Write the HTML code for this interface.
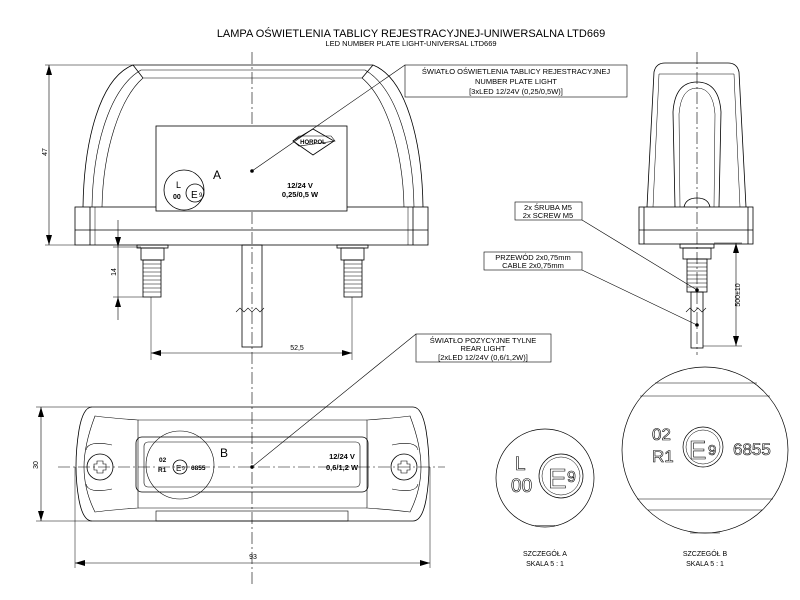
<!DOCTYPE html>
<html><head><meta charset="utf-8"><style>
html,body{margin:0;padding:0;background:#fff;}
svg{display:block;font-family:"Liberation Sans",sans-serif;}
</style></head><body>
<svg width="800" height="600" viewBox="0 0 800 600" xmlns="http://www.w3.org/2000/svg">
<text x="411" y="37" font-size="11" text-anchor="middle">LAMPA OŚWIETLENIA TABLICY REJESTRACYJNEJ-UNIWERSALNA LTD669</text>
<text x="411" y="46" font-size="7.5" text-anchor="middle">LED NUMBER PLATE LIGHT-UNIVERSAL LTD669</text>

<g stroke="#000" stroke-width="0.6" stroke-dasharray="12,3,2,3" fill="none">
<line x1="252" y1="52" x2="252" y2="585"/>
<line x1="697" y1="52" x2="697" y2="355"/>
<line x1="58" y1="467" x2="445" y2="467"/>
</g>

<!-- arrowheads -->
<g fill="#000">
<polygon points="49,65 46,75 52,75"/><polygon points="49,245 46,235 52,235"/>
<polygon points="118,247 115,237 121,237"/><polygon points="118,297 115,307 121,307"/>
<polygon points="151,353 161,350 161,356"/><polygon points="352,353 342,350 342,356"/>
<polygon points="736,243 733,253 739,253"/><polygon points="736,346 733,336 739,336"/>
<polygon points="41,407 38,417 44,417"/><polygon points="41,521 38,511 44,511"/>
<polygon points="75,563 85,560 85,566"/><polygon points="430,563 420,560 420,566"/>
</g>

<!-- FRONT VIEW -->
<g fill="none" stroke="#000" stroke-width="0.8">
<path d="M83,207 C84,140 100,78 133,65 L373,65 C406,78 422,140 423,207"/>
<path d="M92,207 C93,145 110,88 141,70 L365,70 C396,88 413,145 414,207" stroke-width="0.6"/>
<path d="M102,207 C103,150 120,98 143,78 L362,78 C386,98 403,150 404,207" stroke-width="0.6"/>
<line x1="143" y1="78" x2="133" y2="65"/><line x1="362" y1="78" x2="373" y2="65"/>
<rect x="75" y="207" width="353" height="38"/>
<line x1="75" y1="230" x2="428" y2="230"/>
<line x1="90" y1="207" x2="90" y2="245"/><line x1="95" y1="207" x2="95" y2="245" stroke-width="0.5"/>
<line x1="413" y1="207" x2="413" y2="245"/><line x1="408" y1="207" x2="408" y2="245" stroke-width="0.5"/>
<rect x="156" y="126" width="191" height="85" fill="#fff"/>
<path d="M293,141 L313,129 L334,141 L313,155 Z"/>
<path d="M293,141 L299,136 L331,136 L335,141 L299,146 Z" stroke-width="0.6"/>
<circle cx="184" cy="190" r="20"/>
<circle cx="195" cy="193" r="9"/>
<rect x="137" y="245" width="31" height="3"/>
<rect x="141" y="248" width="23" height="12"/>
<rect x="143" y="260" width="18" height="37"/>
<rect x="337" y="245" width="31" height="3"/>
<rect x="341" y="248" width="23" height="12"/>
<rect x="344" y="260" width="18" height="37"/>
<rect x="242" y="245" width="20" height="102"/>
<path d="M236,312 l4,-4 l4,4 l4,-4 l4,4 l4,-4 l4,4 l4,-4" stroke-width="0.6"/>
<line x1="352" y1="297" x2="352" y2="360" stroke-width="0.5"/>
<line x1="151" y1="297" x2="151" y2="360" stroke-width="0.5"/>
<line x1="151" y1="353" x2="352" y2="353" stroke-width="0.6"/>
<line x1="45" y1="65" x2="133" y2="65" stroke-width="0.5"/>
<line x1="45" y1="245" x2="75" y2="245" stroke-width="0.5"/>
<line x1="49" y1="65" x2="49" y2="245" stroke-width="0.6"/>
<line x1="113" y1="247" x2="141" y2="247" stroke-width="0.5"/>
<line x1="113" y1="297" x2="143" y2="297" stroke-width="0.5"/>
<line x1="118" y1="220" x2="118" y2="320" stroke-width="0.6"/>
</g>
<g stroke="#000" stroke-width="0.5">
<line x1="143" y1="264" x2="161" y2="264"/><line x1="143" y1="268" x2="161" y2="268"/><line x1="143" y1="272" x2="161" y2="272"/><line x1="143" y1="276" x2="161" y2="276"/><line x1="143" y1="280" x2="161" y2="280"/><line x1="143" y1="284" x2="161" y2="284"/><line x1="143" y1="288" x2="161" y2="288"/><line x1="143" y1="292" x2="161" y2="292"/>
<line x1="344" y1="264" x2="362" y2="264"/><line x1="344" y1="268" x2="362" y2="268"/><line x1="344" y1="272" x2="362" y2="272"/><line x1="344" y1="276" x2="362" y2="276"/><line x1="344" y1="280" x2="362" y2="280"/><line x1="344" y1="284" x2="362" y2="284"/><line x1="344" y1="288" x2="362" y2="288"/><line x1="344" y1="292" x2="362" y2="292"/>
</g>
<text x="313" y="144" font-size="6" text-anchor="middle" font-weight="bold">HORPOL</text>
<text x="176" y="188" font-size="9">L</text>
<text x="173" y="199" font-size="7" font-weight="bold">00</text>
<text x="191" y="198" font-size="10">E</text><text x="199" y="197" font-size="6">9</text>
<text x="213" y="179" font-size="12">A</text>
<text x="300" y="188" font-size="7.5" font-weight="bold" text-anchor="middle">12/24 V</text>
<text x="300" y="197" font-size="7.5" font-weight="bold" text-anchor="middle">0,25/0,5 W</text>
<circle cx="252" cy="171" r="1.8"/>
<text transform="translate(47,152) rotate(-90)" font-size="7" text-anchor="middle">47</text>
<text transform="translate(116,272) rotate(-90)" font-size="7" text-anchor="middle">14</text>
<text x="297" y="350" font-size="7" text-anchor="middle">52,5</text>

<g fill="none" stroke="#000" stroke-width="0.6">
<rect x="405" y="65" width="222" height="32"/>
<line x1="405" y1="65" x2="252" y2="171"/>
<rect x="515" y="202" width="67" height="18"/>
<line x1="582" y1="220" x2="697" y2="290"/>
<rect x="484" y="252" width="98" height="18"/>
<line x1="582" y1="270" x2="697" y2="325"/>
<rect x="416" y="334" width="135" height="28"/>
<line x1="416" y1="334" x2="252" y2="467"/>
</g>
<g font-size="7.5" text-anchor="middle">
<text x="516" y="74">ŚWIATŁO OŚWIETLENIA TABLICY REJESTRACYJNEJ</text>
<text x="516" y="84">NUMBER PLATE LIGHT</text>
<text x="516" y="94">[3xLED 12/24V (0,25/0,5W)]</text>
<text x="548" y="210">2x ŚRUBA M5</text>
<text x="548" y="218">2x SCREW M5</text>
<text x="533" y="260">PRZEWÓD 2x0,75mm</text>
<text x="533" y="268">CABLE 2x0,75mm</text>
<text x="483" y="343">ŚWIATŁO POZYCYJNE TYLNE</text>
<text x="483" y="351">REAR LIGHT</text>
<text x="483" y="360">[2xLED 12/24V (0,6/1,2W)]</text>
</g>

<!-- SIDE VIEW -->
<g fill="none" stroke="#000" stroke-width="0.8">
<path d="M647,207 L654,72 Q656,63 665,63 L728,63 Q737,63 739,72 L746,207"/>
<path d="M653,207 L659,74 L734,74 L740,207" stroke-width="0.5"/>
<path d="M675,207 L673,112 Q675,82 697,82 Q719,82 721,112 L719,207"/>
<path d="M680,207 L679,114 Q681,88 697,88 Q713,88 715,114 L714,207" stroke-width="0.5"/>
<path d="M684,207 Q686,198 697,198 Q708,198 710,207"/>
<rect x="639" y="207" width="114" height="37"/>
<line x1="639" y1="230" x2="753" y2="230"/>
<line x1="644" y1="207" x2="644" y2="244"/><line x1="748" y1="207" x2="748" y2="244"/>
<rect x="680" y="244" width="34" height="4"/>
<rect x="683" y="248" width="28" height="11"/>
<rect x="687" y="259" width="20" height="33"/>
<rect x="691" y="292" width="12" height="56"/>
<path d="M686,312 l4,-4 l4,4 l4,-4 l4,4 l4,-4" stroke-width="0.6"/>
<line x1="714" y1="243" x2="742" y2="243" stroke-width="0.5"/>
<line x1="703" y1="346" x2="742" y2="346" stroke-width="0.5"/>
<line x1="736" y1="243" x2="736" y2="346" stroke-width="0.6"/>
</g>
<g stroke="#000" stroke-width="0.5">
<line x1="687" y1="263" x2="707" y2="263"/><line x1="687" y1="267" x2="707" y2="267"/><line x1="687" y1="271" x2="707" y2="271"/><line x1="687" y1="275" x2="707" y2="275"/><line x1="687" y1="279" x2="707" y2="279"/><line x1="687" y1="283" x2="707" y2="283"/><line x1="687" y1="287" x2="707" y2="287"/>
</g>
<circle cx="697" cy="290" r="1.8"/><circle cx="697" cy="325" r="1.8"/>
<text transform="translate(740,295) rotate(-90)" font-size="7" text-anchor="middle">500±10</text>

<!-- BOTTOM VIEW -->
<g fill="none" stroke="#000" stroke-width="0.8">
<path d="M92,407 L413,407 Q422,407 426,430 Q432,467 426,500 Q422,521 413,521 L92,521 Q83,521 79,500 Q73,467 79,430 Q83,407 92,407 Z"/>
<path d="M95,416 Q110,418 138,420 L138,508 Q110,510 95,512 Q84,490 84,467 Q84,445 95,416 Z" stroke-width="0.6"/>
<path d="M410,416 Q395,418 367,420 L367,508 Q395,510 410,512 Q421,490 421,467 Q421,445 410,416 Z" stroke-width="0.6"/>
<line x1="138" y1="420" x2="367" y2="420" stroke-width="0.6"/>
<line x1="138" y1="508" x2="367" y2="508" stroke-width="0.6"/>
<rect x="136" y="437" width="232" height="55" rx="6"/>
<rect x="144" y="442" width="216" height="45" rx="4" stroke-width="0.6"/>
<rect x="156" y="511" width="192" height="10" stroke-width="0.6"/>
<circle cx="100" cy="467" r="13"/>
<path d="M112,445 Q88,440 86,450 M112,489 Q88,494 86,484" stroke-width="0.6"/>
<path d="M97,461 h6 v3 h3 v6 h-3 v3 h-6 v-3 h-3 v-6 h3 z" stroke-width="0.6"/>
<circle cx="404" cy="467" r="13"/>
<path d="M392,445 Q416,440 418,450 M392,489 Q416,494 418,484" stroke-width="0.6"/>
<path d="M401,461 h6 v3 h3 v6 h-3 v3 h-6 v-3 h-3 v-6 h3 z" stroke-width="0.6"/>
<circle cx="180" cy="465" r="34" stroke-width="0.6"/>
<circle cx="180" cy="467" r="7"/>
<line x1="36" y1="407" x2="92" y2="407" stroke-width="0.5"/>
<line x1="36" y1="521" x2="92" y2="521" stroke-width="0.5"/>
<line x1="41" y1="407" x2="41" y2="521" stroke-width="0.6"/>
<line x1="75" y1="467" x2="75" y2="568" stroke-width="0.5"/>
<line x1="430" y1="467" x2="430" y2="568" stroke-width="0.5"/>
<line x1="75" y1="563" x2="430" y2="563" stroke-width="0.6"/>
</g>
<text x="159" y="462" font-size="6.5" font-weight="bold">02</text>
<text x="158" y="472" font-size="6.5" font-weight="bold">R1</text>
<text x="176" y="471" font-size="8">E</text><text x="182" y="470" font-size="5">9</text>
<text x="191" y="470" font-size="6.5" font-weight="bold">6855</text>
<text x="220" y="457" font-size="12">B</text>
<text x="342" y="459" font-size="7.5" font-weight="bold" text-anchor="middle">12/24 V</text>
<text x="342" y="470" font-size="7.5" font-weight="bold" text-anchor="middle">0,6/1,2 W</text>
<circle cx="252" cy="467" r="1.8"/>
<text transform="translate(38,465) rotate(-90)" font-size="7" text-anchor="middle">30</text>
<text x="253" y="559" font-size="7" text-anchor="middle">93</text>

<!-- DETAIL A -->
<g fill="none" stroke="#000" stroke-width="0.7">
<circle cx="545" cy="478" r="49"/>
<line x1="535" y1="525.5" x2="555" y2="525.5" stroke-width="0.5"/>
<circle cx="561" cy="476" r="22"/><circle cx="561" cy="476" r="19" stroke-width="0.5"/>
</g>
<g fill="#fff" stroke="#000" stroke-width="0.6">
<text x="515" y="470" font-size="19">L</text>
<text x="511" y="492" font-size="19">00</text>
<text x="548" y="488" font-size="28">E</text>
<text x="567" y="482" font-size="16">9</text>
</g>
<text x="545" y="556" font-size="7" text-anchor="middle">SZCZEGÓŁ A</text>
<text x="545" y="566" font-size="7" text-anchor="middle">SKALA 5 : 1</text>

<!-- DETAIL B -->
<g fill="none" stroke="#000" stroke-width="0.7">
<circle cx="705" cy="450" r="83"/>
<line x1="655" y1="383" x2="757" y2="383" stroke-width="0.5"/>
<line x1="640" y1="396" x2="770" y2="396" stroke-width="0.5"/>
<line x1="637" y1="499" x2="773" y2="499" stroke-width="0.5"/>
<line x1="648" y1="510" x2="762" y2="510" stroke-width="0.5"/>
<line x1="690" y1="533" x2="720" y2="533" stroke-width="0.5"/>
<circle cx="703" cy="447" r="20"/><circle cx="703" cy="447" r="17" stroke-width="0.5"/>
</g>
<g fill="#fff" stroke="#000" stroke-width="0.6">
<text x="652" y="440" font-size="17">02</text>
<text x="652" y="462" font-size="17">R1</text>
<text x="689" y="459" font-size="26">E</text>
<text x="708" y="455" font-size="15">9</text>
<text x="733" y="455" font-size="17">6855</text>
</g>
<text x="705" y="556" font-size="7" text-anchor="middle">SZCZEGÓŁ B</text>
<text x="705" y="566" font-size="7" text-anchor="middle">SKALA 5 : 1</text>
</svg>
</body></html>
